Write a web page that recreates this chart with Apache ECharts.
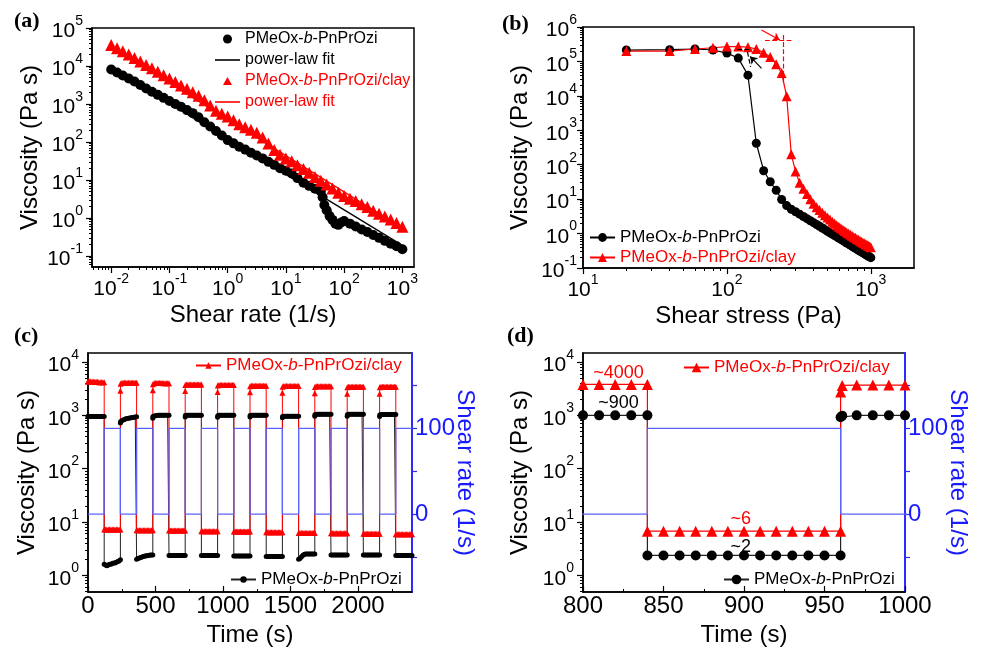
<!DOCTYPE html>
<html>
<head>
<meta charset="utf-8">
<script src="https://cdn.jsdelivr.net/npm/echarts@6/dist/echarts.min.js"></script>
<style>
  html, body { margin: 0; padding: 0; background: #fff; }
  #chart { width: 983px; height: 651px; }
</style>
</head>
<body>
<div id="chart"></div>
<script>
const FONT = '"Liberation Sans", Arial, sans-serif';
const L = Math.log10;

// ---------- (a) viscosity vs shear rate ----------
const rateClay = [0.01, 0.0126, 0.0158, 0.02, 0.0251, 0.0316, 0.0398, 0.0501, 0.0631, 0.0794,
  0.1, 0.126, 0.158, 0.2, 0.251, 0.316, 0.398, 0.501, 0.631, 0.794,
  1, 1.26, 1.58, 2, 2.51, 3.16, 3.98, 5.01, 6.31, 7.94,
  10, 12.6, 15.8, 20, 25.1, 31.6, 39.8, 50.1, 63.1, 79.4,
  100, 126, 158, 200, 251, 316, 398, 501, 631, 794, 1000];
const etaClay = [35500, 29500, 24500, 20000, 16200, 13200, 10700, 8700, 7100, 5750,
  4680, 3800, 3090, 2510, 2040, 1660, 1260, 912, 661, 550,
  468, 372, 295, 245, 209, 174, 132, 91, 62, 46,
  37, 31, 24.5, 19.5, 15.5, 12.0, 9.5, 7.6, 6.0, 4.6,
  3.8, 3.2, 2.8, 2.3, 1.95, 1.55, 1.29, 1.10, 0.91, 0.74, 0.59];
const rateNeat = [0.01, 0.0126, 0.0158, 0.02, 0.0251, 0.0316, 0.0398, 0.0501, 0.0631, 0.0794,
  0.1, 0.126, 0.158, 0.2, 0.251, 0.316, 0.398, 0.501, 0.631, 0.794,
  1, 1.26, 1.58, 2, 2.51, 3.16, 3.98, 5.01, 6.31, 7.94,
  10, 12.6, 15.8, 20, 25.1, 31.6, 39.8, 42.7, 45.7, 50.1, 56.2, 63.1, 70.8, 79.4, 89.1,
  100, 126, 158, 200, 251, 316, 398, 501, 631, 794, 1000];
const etaNeat = [8100, 6760, 5620, 4680, 3890, 3160, 2570, 2090, 1740, 1450,
  1200, 1000, 850, 690, 575, 447, 331, 257, 195, 148,
  112, 92, 75, 63, 52, 44, 37, 30, 25, 20.5,
  17.5, 14.8, 11.2, 8.5, 7.0, 5.9, 5.0, 3.5, 2.2, 1.6, 1.12, 0.89, 0.71, 0.66, 0.76,
  0.83, 0.71, 0.60, 0.50, 0.43, 0.355, 0.30, 0.25, 0.21, 0.18, 0.15];
const fitNeat = [[0.01, 8900], [1000, 0.19]];
const fitClay = [[0.01, 31600], [1000, 0.54]];

// ---------- (b) viscosity vs shear stress ----------
const stressB = [20, 40, 60, 80, 100, 120, 140, 160, 180, 200, 220, 240, 260, 280, 300, 320, 340, 360, 380, 400,
  420, 440, 460, 480, 500, 520, 540, 560, 580, 600, 620, 640, 660, 680, 700, 720, 740, 760, 780, 800,
  820, 840, 860, 880, 900, 920, 940, 960, 980, 1000];
const etaNeatB = [214000, 220000, 230000, 215000, 175000, 125000, 40000, 420, 67, 32, 18, 9.8, 6.5, 5.1, 4.3, 3.66, 3.14, 2.71, 2.35, 2.07,
  1.83, 1.63, 1.45, 1.30, 1.17, 1.06, 0.96, 0.88, 0.80, 0.74, 0.68, 0.625, 0.575, 0.53, 0.50, 0.46, 0.43, 0.40, 0.377, 0.353,
  0.331, 0.31, 0.293, 0.278, 0.262, 0.247, 0.234, 0.222, 0.211, 0.20];
const etaClayB = [200000, 200000, 230000, 250000, 270000, 270000, 260000, 230000, 180000, 135000, 83000, 46000, 9800, 200, 63, 30, 20, 14, 10, 7.3,
  5.8, 4.8, 4.0, 3.4, 2.95, 2.55, 2.2, 1.95, 1.75, 1.57, 1.42, 1.30, 1.18, 1.08, 1.00, 0.93, 0.86, 0.80, 0.75, 0.70,
  0.66, 0.62, 0.58, 0.55, 0.52, 0.49, 0.47, 0.44, 0.42, 0.40];
// yield-point guide lines [from, to] in (stress, viscosity)
const guideClayH = [[184, 4.0e5], [290, 4.0e5]];
const guideClayV = [[246, 5.9e5], [246, 2.0e4]];
const arrowClay = [[174, 8.2e5], [233, 4.2e5]];
const guideNeatH = [[118, 2.2e5], [150, 2.2e5]];
const guideNeatT = [[139, 1.9e5], [146, 7.0e4]];
const arrowNeat = [[174, 6.3e4], [145, 1.4e5]];

// ---------- (c)/(d) step test ----------
const restStarts = [0, 240, 480, 720, 960, 1200, 1440, 1680, 1920, 2160];
const shearStarts = [120, 360, 600, 840, 1080, 1320, 1560, 1800, 2040, 2280];
const restOffsets = [0, 1, 10, 20, 30, 40, 50, 60, 70, 80, 90, 100, 110, 120];
const shearOffsets = [0, 10, 20, 30, 40, 50, 60, 70, 80, 90, 100, 110, 120];
const clayRest = [
  [4300, 4300, 4300, 4300, 4300, 4250, 4250, 4250, 4250, 4200, 4200, 4200, 4200, 4200],
  [2900, 3900, 4050, 4100, 4100, 4100, 4100, 4100, 4100, 4100, 4100, 4100, 4100, 4100],
  [2950, 3850, 4000, 4050, 4050, 4050, 4050, 4050, 4050, 4000, 4000, 4000, 4000, 4000],
  [2850, 3700, 3800, 3800, 3800, 3800, 3800, 3800, 3800, 3800, 3800, 3800, 3800, 3800],
  [2750, 3650, 3700, 3700, 3700, 3700, 3700, 3700, 3700, 3700, 3700, 3700, 3700, 3700],
  [2700, 3500, 3600, 3600, 3600, 3600, 3600, 3600, 3600, 3600, 3600, 3600, 3600, 3600],
  [2650, 3450, 3550, 3550, 3550, 3550, 3550, 3550, 3550, 3550, 3550, 3550, 3550, 3550],
  [2600, 3400, 3500, 3500, 3500, 3500, 3500, 3500, 3500, 3500, 3500, 3500, 3500, 3500],
  [2550, 3350, 3450, 3450, 3450, 3450, 3450, 3450, 3450, 3450, 3450, 3450, 3450, 3450],
  [2550, 3350, 3450, 3450, 3450, 3450, 3450, 3450, 3450, 3450, 3450, 3450, 3450, 3450]
];
const clayShear = [
  [7.2, 7.2, 7.2, 7.2, 7.2, 7.2, 7.2, 7.2, 7.2, 7.2, 7.2, 7.2, 7.2],
  [7.0, 7.0, 7.0, 7.0, 7.0, 7.0, 7.0, 7.0, 7.0, 7.0, 7.0, 7.0, 7.0],
  [6.9, 6.9, 6.9, 6.9, 6.9, 6.9, 6.9, 6.9, 6.9, 6.9, 6.9, 6.9, 6.9],
  [6.7, 6.7, 6.7, 6.7, 6.7, 6.7, 6.7, 6.7, 6.7, 6.7, 6.7, 6.7, 6.7],
  [6.6, 6.6, 6.6, 6.6, 6.6, 6.6, 6.6, 6.6, 6.6, 6.6, 6.6, 6.6, 6.6],
  [6.4, 6.4, 6.4, 6.4, 6.4, 6.4, 6.4, 6.4, 6.4, 6.4, 6.4, 6.4, 6.4],
  [6.2, 6.2, 6.2, 6.2, 6.2, 6.2, 6.2, 6.2, 6.2, 6.2, 6.2, 6.2, 6.2],
  [6.1, 6.1, 6.1, 6.1, 6.1, 6.1, 6.1, 6.1, 6.1, 6.1, 6.1, 6.1, 6.1],
  [6.0, 6.0, 6.0, 6.0, 6.0, 6.0, 6.0, 6.0, 6.0, 6.0, 6.0, 6.0, 6.0],
  [5.9, 5.9, 5.9, 5.9, 5.9, 5.9, 5.9, 5.9, 5.9, 5.9, 5.9, 5.9, 5.9]
];
const neatRest = [
  [950, 950, 950, 950, 950, 950, 950, 950, 950, 950, 950, 950, 950, 950],
  [720, 760, 790, 820, 840, 860, 870, 880, 890, 900, 910, 920, 930, 940],
  [880, 950, 970, 980, 990, 1000, 1000, 1000, 1000, 1000, 1000, 1000, 1000, 1000],
  [930, 990, 1000, 1000, 1000, 1000, 1000, 1000, 1000, 1000, 1000, 1000, 1000, 1000],
  [920, 980, 1000, 1000, 1000, 1000, 1000, 1000, 1000, 1000, 1000, 1000, 1000, 1000],
  [930, 990, 1000, 1000, 1000, 1000, 1000, 1000, 1000, 1000, 1000, 1000, 1000, 1000],
  [900, 950, 960, 960, 960, 960, 960, 960, 960, 960, 960, 960, 960, 960],
  [960, 1030, 1050, 1050, 1050, 1050, 1050, 1050, 1050, 1050, 1050, 1050, 1050, 1050],
  [960, 1030, 1050, 1050, 1050, 1050, 1050, 1050, 1050, 1050, 1050, 1050, 1050, 1050],
  [950, 1020, 1040, 1040, 1040, 1040, 1040, 1040, 1040, 1040, 1040, 1040, 1040, 1040]
];
const neatShear = [
  [1.6, 1.55, 1.5, 1.55, 1.6, 1.6, 1.65, 1.7, 1.7, 1.75, 1.8, 1.85, 1.95],
  [2.0, 2.05, 2.1, 2.15, 2.2, 2.25, 2.3, 2.3, 2.35, 2.35, 2.4, 2.4, 2.4],
  [2.35, 2.35, 2.35, 2.35, 2.35, 2.35, 2.35, 2.35, 2.35, 2.35, 2.35, 2.35, 2.35],
  [2.35, 2.35, 2.35, 2.35, 2.35, 2.35, 2.35, 2.35, 2.35, 2.35, 2.35, 2.35, 2.35],
  [2.3, 2.3, 2.3, 2.3, 2.3, 2.3, 2.3, 2.3, 2.3, 2.3, 2.3, 2.3, 2.3],
  [2.25, 2.25, 2.25, 2.25, 2.25, 2.25, 2.25, 2.25, 2.25, 2.25, 2.25, 2.25, 2.25],
  [2.0, 2.05, 2.2, 2.35, 2.45, 2.5, 2.5, 2.5, 2.5, 2.5, 2.5, 2.5, 2.5],
  [2.4, 2.4, 2.4, 2.4, 2.4, 2.4, 2.4, 2.4, 2.4, 2.4, 2.4, 2.4, 2.4],
  [2.4, 2.4, 2.4, 2.4, 2.4, 2.4, 2.4, 2.4, 2.4, 2.4, 2.4, 2.4, 2.4],
  [2.35, 2.35, 2.35, 2.35, 2.35, 2.35, 2.35, 2.35, 2.35, 2.35, 2.35, 2.35, 2.35]
];
const rateTimes = [0, 120, 240, 360, 480, 600, 720, 840, 960, 1080, 1200, 1320, 1440, 1560, 1680, 1800, 1920, 2040, 2160, 2280, 2400];
const rateValues = [0, 100, 0, 100, 0, 100, 0, 100, 0, 100, 0, 100, 0, 100, 0, 100, 0, 100, 0, 100, 100];
// value labels in (d): [text, time, viscosity]
const notesClay = [['~4000', 822, 6200], ['~6', 898, 11.4]];
const notesNeat = [['~900', 822, 1700], ['~2', 898, 3.4]];

// ---------- helpers ----------
const logPairs = (xs, ys) => xs.map((x, i) => [L(x), L(ys[i])]);
const logLine = pts => pts.map(p => [L(p[0]), L(p[1])]);
function stepData(rest, shear) {
  const out = [];
  for (let k = 0; k < restStarts.length; k++) {
    rest[k].forEach((v, i) => out.push([restStarts[k] + restOffsets[i], L(v)]));
    shear[k].forEach((v, i) => out.push([shearStarts[k] + shearOffsets[i], L(v)]));
  }
  return out;
}
const rateData = rateTimes.map((t, i) => [t, rateValues[i]]);

const powRich = {
  b: { fontSize: 21, fontFamily: FONT, color: '#000', padding: [7, 0, 0, 0] },
  s: { fontSize: 14, fontFamily: FONT, color: '#000', verticalAlign: 'top' }
};
const powLabel = v => '{b|10}{s|' + Math.round(v) + '}';
const plain = v => String(v);

const nameStyle = { fontSize: 24, fontFamily: FONT, color: '#000' };
const axisLineK = { show: true, onZero: false, lineStyle: { color: '#000', width: 1.5 } };
const noLine = { show: false, onZero: false };

function logAxes(gridIndex, pos, min, max, margin, name, nameGap, isY) {
  const majors = [], minors = [];
  for (let n = Math.floor(min); n <= Math.ceil(max); n++) {
    if (n >= min - 1e-9 && n <= max + 1e-9) majors.push(n);
    for (let k = 2; k < 10; k++) {
      const v = n + L(k);
      if (v >= min && v <= max) minors.push(v);
    }
  }
  const main = {
    type: 'value', gridIndex, position: pos, min, max,
    axisLine: axisLineK, splitLine: { show: false },
    axisTick: { show: true, inside: false, length: 6, customValues: majors, lineStyle: { color: '#000', width: 1.2 } },
    axisLabel: { show: true, margin, customValues: majors, formatter: powLabel, rich: powRich },
    name, nameLocation: 'middle', nameGap, nameTextStyle: nameStyle, nameMoveOverlap: false
  };
  if (isY) main.nameRotate = 90;
  const minor = {
    type: 'value', gridIndex, position: pos, min, max,
    axisLine: noLine, splitLine: { show: false }, axisLabel: { show: false },
    axisTick: { show: true, inside: false, length: 3, customValues: minors, lineStyle: { color: '#000', width: 1 } }
  };
  return [main, minor];
}

function timeAxes(gridIndex, min, max, majors, minors) {
  return [{
    type: 'value', gridIndex, position: 'bottom', min, max,
    axisLine: axisLineK, splitLine: { show: false },
    axisTick: { show: true, inside: true, length: 6, customValues: majors, lineStyle: { color: '#000', width: 1.2 } },
    axisLabel: { show: true, margin: 2, customValues: majors, formatter: plain, fontSize: 24, fontFamily: FONT, color: '#000' },
    name: 'Time (s)', nameLocation: 'middle', nameGap: 31, nameTextStyle: nameStyle, nameMoveOverlap: false
  }, {
    type: 'value', gridIndex, position: 'bottom', min, max,
    axisLine: noLine, splitLine: { show: false }, axisLabel: { show: false },
    axisTick: { show: true, inside: true, length: 3, customValues: minors, lineStyle: { color: '#000', width: 1 } }
  }];
}

function rateAxis(gridIndex) {
  return {
    type: 'value', gridIndex, position: 'right', min: -91, max: 188,
    axisLine: { show: true, onZero: false, lineStyle: { color: '#2b2bff', width: 2 } },
    splitLine: { show: false },
    axisTick: { show: true, inside: false, length: 5, customValues: [-50, 0, 50, 100, 150], lineStyle: { color: '#2b2bff', width: 1.2 } },
    axisLabel: { show: true, margin: 3, customValues: [0, 100], formatter: plain, fontSize: 24, fontFamily: FONT, color: '#1a1aff' },
    name: 'Shear rate (1/s)', nameLocation: 'middle', nameGap: 41, nameRotate: -90,
    nameTextStyle: { fontSize: 24, fontFamily: FONT, color: '#1a1aff' }, nameMoveOverlap: false
  };
}

const [axA, axAm] = logAxes(0, 'bottom', -2.33, 3.2, 5, 'Shear rate (1/s)', 36, false);
const [ayA, ayAm] = logAxes(0, 'left', -1.29, 5, 9, 'Viscosity (Pa s)', 50, true);
const [axB, axBm] = logAxes(1, 'bottom', 1, 3.3, 5, 'Shear stress (Pa)', 36, false);
const [ayB, ayBm] = logAxes(1, 'left', -1, 6, 6, 'Viscosity (Pa s)', 51, true);
const [ayC, ayCm] = logAxes(2, 'left', -0.315, 4.17, 9, 'Viscosity (Pa s)', 49, true);
const [ayD, ayDm] = logAxes(3, 'left', -0.315, 4.17, 9, 'Viscosity (Pa s)', 51, true);
const [axC, axCm] = timeAxes(2, 0, 2400, [0, 500, 1000, 1500, 2000], [250, 750, 1250, 1750, 2250]);
const [axD, axDm] = timeAxes(3, 800, 1000, [800, 850, 900, 950, 1000], [825, 875, 925, 975]);

// ---------- legends ----------
const legendText = {
  a_neat: '{k|PMeOx-}{ki|b}{k|-PnPrOzi}',
  a_fit: '{k|power-law fit}',
  a_clay: '{r|PMeOx-}{ri|b}{r|-PnPrOzi/clay}',
  a_clayfit: '{r|power-law fit}',
  b_neat: '{k|PMeOx-}{ki|b}{k|-PnPrOzi}',
  b_clay: '{r|PMeOx-}{ri|b}{r|-PnPrOzi/clay}',
  c_neat: '{k|PMeOx-}{ki|b}{k|-PnPrOzi}',
  c_clay: '{r|PMeOx-}{ri|b}{r|-PnPrOzi/clay}',
  d_neat: '{k|PMeOx-}{ki|b}{k|-PnPrOzi}',
  d_clay: '{r|PMeOx-}{ri|b}{r|-PnPrOzi/clay}'
};
const LINE_ICON = 'path://M0,0L25,0L25,1.6L0,1.6Z';
// small triangle centred in a 25x9 box (the corner moves only set the box size)
const TRI_ICON = 'path://M0,0M25,9M12.5,0.5L17,8.5L8,8.5Z';
function richFor(fs) {
  const base = { fontSize: fs, fontFamily: FONT };
  return {
    k: Object.assign({ color: '#000' }, base),
    ki: Object.assign({ color: '#000', fontStyle: 'italic' }, base),
    r: Object.assign({ color: '#f00' }, base),
    ri: Object.assign({ color: '#f00', fontStyle: 'italic' }, base)
  };
}
function legend(items, left, top, fs, itemH, gap) {
  return {
    show: true, selectedMode: false, orient: 'vertical', left, top, padding: 0,
    data: items, itemWidth: 25, itemHeight: itemH, itemGap: gap, symbolKeepAspect: true,
    formatter: n => legendText[n],
    textStyle: { fontSize: fs, fontFamily: FONT, rich: richFor(fs) }
  };
}

function guide(pts, color, type, arrow) {
  return [
    { coord: logLine(pts)[0], symbol: 'none', lineStyle: { color, type, width: 1.2 } },
    { coord: logLine(pts)[1], symbol: arrow ? 'arrow' : 'none', symbolSize: 7 }
  ];
}
function notes(list, color) {
  return {
    silent: true, symbol: 'circle', symbolSize: 0, animation: false,
    data: list.map(n => ({
      coord: [n[1], L(n[2])],
      label: { show: true, position: 'inside', formatter: n[0], color, fontSize: 18, fontFamily: FONT }
    }))
  };
}

const RED = '#ff0000';
const BLUE = '#5b63ff';

const option = {
  animation: false,
  backgroundColor: '#fff',
  textStyle: { fontFamily: FONT },
  grid: [
    { left: 92, top: 28, width: 322, height: 239, show: true, borderColor: '#000', borderWidth: 1.5, outerBoundsMode: 'none' },
    { left: 583, top: 27, width: 331, height: 241, show: true, borderColor: '#000', borderWidth: 1.5, outerBoundsMode: 'none' },
    { left: 88, top: 353, width: 324, height: 239, show: true, borderColor: '#000', borderWidth: 1.5, outerBoundsMode: 'none' },
    { left: 583, top: 353, width: 322, height: 239, show: true, borderColor: '#000', borderWidth: 1.5, outerBoundsMode: 'none' }
  ],
  xAxis: [axA, axAm, axB, axBm, axC, axCm, axD, axDm],
  yAxis: [ayA, ayAm, ayB, ayBm, ayC, ayCm, rateAxis(2), ayD, ayDm, rateAxis(3)],
  legend: [
    legend([{ name: 'a_neat', icon: 'circle' }, { name: 'a_fit', icon: LINE_ICON },
      { name: 'a_clay', icon: TRI_ICON }, { name: 'a_clayfit', icon: LINE_ICON }], 215, 31, 16, 9, 5),
    legend(['b_neat', 'b_clay'], 589, 229, 17, 11, 3),
    legend(['c_clay'], 195, 357, 17, 8, 0),
    legend(['c_neat'], 230, 571, 17, 8, 0),
    legend(['d_clay'], 683, 359, 17, 12, 0),
    legend(['d_neat'], 723, 571, 17, 12, 0)
  ],
  graphic: [
    { type: 'text', left: 14, top: 10, style: { text: '(a)', font: 'bold 22px "Liberation Serif", serif', fill: '#000' } },
    { type: 'text', left: 502, top: 13, style: { text: '(b)', font: 'bold 22px "Liberation Serif", serif', fill: '#000' } },
    { type: 'text', left: 14, top: 325, style: { text: '(c)', font: 'bold 22px "Liberation Serif", serif', fill: '#000' } },
    { type: 'text', left: 507, top: 325, style: { text: '(d)', font: 'bold 22px "Liberation Serif", serif', fill: '#000' } }
  ],
  series: [
    // (a)
    { name: 'a_neat', type: 'scatter', xAxisIndex: 0, yAxisIndex: 0, symbol: 'circle', symbolSize: 10,
      itemStyle: { color: '#000', opacity: 1 }, data: logPairs(rateNeat, etaNeat) },
    { name: 'a_fit', type: 'line', xAxisIndex: 0, yAxisIndex: 0, symbol: 'none',
      lineStyle: { color: '#000', width: 1.3 }, itemStyle: { color: '#000' }, data: logLine(fitNeat) },
    { name: 'a_clay', type: 'scatter', xAxisIndex: 0, yAxisIndex: 0, symbol: 'triangle', symbolSize: 12,
      itemStyle: { color: RED, opacity: 1 }, data: logPairs(rateClay, etaClay) },
    { name: 'a_clayfit', type: 'line', xAxisIndex: 0, yAxisIndex: 0, symbol: 'none',
      lineStyle: { color: RED, width: 1.3 }, itemStyle: { color: RED }, data: logLine(fitClay) },
    // (b)
    { name: 'b_neat', type: 'line', xAxisIndex: 2, yAxisIndex: 2, symbol: 'circle', symbolSize: 9,
      lineStyle: { color: '#000', width: 1.2 }, itemStyle: { color: '#000' }, data: logPairs(stressB, etaNeatB),
      markLine: { silent: true, animation: false, label: { show: false },
        data: [guide(guideNeatH, '#000', 'dashed'), guide(guideNeatT, '#000', 'dashed'), guide(arrowNeat, '#000', 'solid', true)] } },
    { name: 'b_clay', type: 'line', xAxisIndex: 2, yAxisIndex: 2, symbol: 'triangle', symbolSize: 10,
      lineStyle: { color: RED, width: 1.2 }, itemStyle: { color: RED }, data: logPairs(stressB, etaClayB),
      markLine: { silent: true, animation: false, label: { show: false },
        data: [guide(guideClayH, RED, 'dashed'), guide(guideClayV, RED, 'dashed'), guide(arrowClay, RED, 'solid', true)] } },
    // (c)
    { name: 'c_neat', type: 'line', xAxisIndex: 4, yAxisIndex: 4, symbol: 'circle', symbolSize: 5,
      lineStyle: { color: '#222', width: 1 }, itemStyle: { color: '#000' }, data: stepData(neatRest, neatShear) },
    { name: 'c_clay', type: 'line', xAxisIndex: 4, yAxisIndex: 4, symbol: 'triangle', symbolSize: 6,
      lineStyle: { color: RED, width: 1 }, itemStyle: { color: RED }, data: stepData(clayRest, clayShear) },
    { name: 'c_rate', type: 'line', xAxisIndex: 4, yAxisIndex: 6, step: 'end', symbol: 'none',
      lineStyle: { color: BLUE, width: 1.2 }, data: rateData },
    // (d)
    { name: 'd_neat', type: 'line', xAxisIndex: 6, yAxisIndex: 7, symbol: 'circle', symbolSize: 10,
      lineStyle: { color: '#222', width: 1.2 }, itemStyle: { color: '#000' }, data: stepData(neatRest, neatShear),
      markPoint: notes(notesNeat, '#000') },
    { name: 'd_clay', type: 'line', xAxisIndex: 6, yAxisIndex: 7, symbol: 'triangle', symbolSize: 11,
      lineStyle: { color: RED, width: 1.2 }, itemStyle: { color: RED }, data: stepData(clayRest, clayShear),
      markPoint: notes(notesClay, RED) },
    { name: 'd_rate', type: 'line', xAxisIndex: 6, yAxisIndex: 9, step: 'end', symbol: 'none',
      lineStyle: { color: BLUE, width: 1.2 }, data: rateData }
  ]
};

const chart = echarts.init(document.getElementById('chart'), null, { renderer: 'canvas' });
chart.setOption(option);
window.addEventListener('resize', function () { chart.resize(); });
</script>
</body>
</html>
